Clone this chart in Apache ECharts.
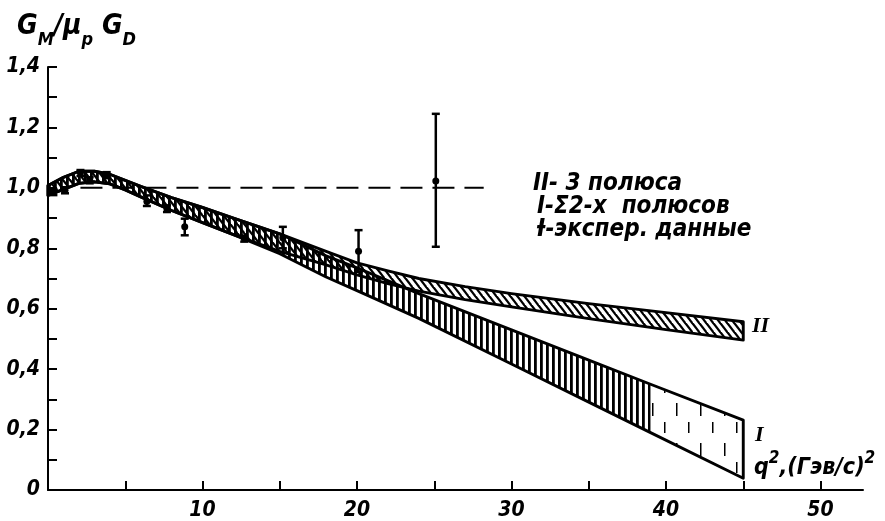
<!DOCTYPE html>
<html><head><meta charset="utf-8">
<script src="https://cdn.jsdelivr.net/npm/echarts@6/dist/echarts.min.js"></script>
<style>html,body{margin:0;padding:0;background:#fff}#c{width:885px;height:521px}</style>
</head><body><div id="c"></div>
<script>
// ---------- data ----------
const xTickValues = [5, 10, 15, 20, 25, 30, 35, 40, 45, 50];
const xLabelValues = [10, 20, 30, 40, 50];
const yTickValues = [0.1, 0.2, 0.3, 0.4, 0.5, 0.6, 0.7, 0.8, 0.9, 1.0, 1.1, 1.2, 1.3, 1.4];
const yLabelValues = [0, 0.2, 0.4, 0.6, 0.8, 1.0, 1.2, 1.4];

// band II : 3 poles
const bandIIq2 = [0, 1, 2, 3, 4, 5, 6, 8, 10, 12, 15, 18, 20, 22, 24, 27, 30, 35, 40, 45];
const bandIIhi = [1.008, 1.035, 1.055, 1.055, 1.045, 1.025, 1.005, 0.968, 0.935, 0.9, 0.848, 0.79, 0.752, 0.725, 0.70, 0.673, 0.65, 0.617, 0.587, 0.557];
const bandIIlo = [0.975, 0.995, 1.015, 1.02, 1.013, 0.993, 0.97, 0.925, 0.885, 0.845, 0.79, 0.745, 0.712, 0.683, 0.658, 0.63, 0.606, 0.567, 0.531, 0.496];

// band I : sum of 2 poles
const bandIq2 = [0, 1, 2, 3, 4, 5, 6, 8, 10, 12, 15, 18, 20, 24, 30, 35, 39, 45];
const bandIhi = [1.008, 1.035, 1.055, 1.055, 1.045, 1.025, 1.005, 0.968, 0.935, 0.9, 0.848, 0.775, 0.735, 0.65, 0.53, 0.43, 0.35, 0.231];
const bandIlo = [0.975, 0.995, 1.015, 1.02, 1.013, 0.993, 0.97, 0.925, 0.885, 0.845, 0.782, 0.705, 0.66, 0.568, 0.417, 0.291, 0.19, 0.039];
const bandIDenseEnd = 39;

// experimental data
const expQ2 = [0.35, 1.1, 2.1, 2.7, 3.8, 6.4, 7.7, 8.85, 12.7, 15.2, 20.1, 25.1];
const expY  = [0.986, 0.992, 1.049, 1.025, 1.042, 0.955, 0.93, 0.871, 0.832, 0.835, 0.79, 1.023];
const expLo = [0.976, 0.982, 1.039, 1.015, 1.032, 0.94, 0.92, 0.843, 0.822, 0.80, 0.722, 0.805];
const expHi = [0.996, 1.002, 1.059, 1.035, 1.052, 0.975, 0.942, 0.898, 0.842, 0.871, 0.86, 1.245];

// reference line G_M/μ_p G_D = 1
const refQ2 = [2.1, 28.2];
const refY = [1.0, 1.0];

// ---------- styling helpers ----------
const FONT = '"Liberation Sans Narrow","DejaVu Sans Condensed","DejaVu Sans",sans-serif';

function makePattern(kind) {
  const c = document.createElement('canvas');
  const ctx = c.getContext('2d');
  if (kind === 'vert') {
    c.width = 6; c.height = 6;
    ctx.fillStyle = '#000';
    ctx.fillRect(0, 0, 2.8, 6);
  } else if (kind === 'diag') {
    const w = 7, h = 9;
    c.width = w; c.height = h;
    ctx.strokeStyle = '#000';
    ctx.lineWidth = 2.3;
    for (const k of [-w, 0, w]) {
      ctx.beginPath();
      ctx.moveTo(k - w * 0.2, -h * 0.2);
      ctx.lineTo(k + w * 1.2, h * 1.2);
      ctx.stroke();
    }
  } else {
    c.width = 24; c.height = 40;
    ctx.fillStyle = '#000';
    ctx.fillRect(4, 3, 1.5, 13);
    ctx.fillRect(16, 22, 1.5, 11);
  }
  return { image: c, repeat: 'repeat' };
}
const patVert = makePattern('vert');
const patDiag = makePattern('diag');
const patSparse = makePattern('sparse');

function bandSeries(name, q2, lo, hi, fills, z) {
  return {
    name: name,
    type: 'custom',
    coordinateSystem: 'cartesian2d',
    z: z,
    silent: true,
    data: q2.map((x, i) => [x, lo[i], hi[i]]),
    encode: { x: 0, y: [1, 2] },
    renderItem: function (params, api) {
      if (params.dataIndex !== 0) return null;
      const children = [];
      fills.forEach(f => {
        const up = [], dn = [];
        for (let i = 0; i < q2.length; i++) {
          if (q2[i] < f.from || q2[i] > f.to) continue;
          up.push(api.coord([q2[i], hi[i]]));
          dn.push(api.coord([q2[i], lo[i]]));
        }
        children.push({ type: 'polygon', shape: { points: up.concat(dn.reverse()) }, style: { fill: f.pattern } });
      });
      const up = [], dn = [];
      for (let i = 0; i < q2.length; i++) {
        up.push(api.coord([q2[i], hi[i]]));
        dn.push(api.coord([q2[i], lo[i]]));
      }
      children.push({ type: 'polygon', shape: { points: up.concat(dn.reverse()) },
        style: { fill: 'none', stroke: '#000', lineWidth: 2.9, lineJoin: 'round' } });
      return { type: 'group', children: children };
    }
  };
}

const chart = echarts.init(document.getElementById('c'), null, { renderer: 'canvas' });
const labelStyle = { color: '#000', fontFamily: FONT, fontStyle: 'italic', fontWeight: 'bold', fontSize: 21 };
const legendStyle = { fontFamily: FONT, fontStyle: 'italic', fontWeight: 'bold', fontSize: 24, fill: '#000' };

chart.setOption({
  backgroundColor: '#fff',
  animation: false,
  grid: { left: 48, right: 22, top: 67, bottom: 31 },
  xAxis: {
    type: 'value', min: 0, max: 52.75,
    splitLine: { show: false },
    axisLine: { onZero: false, lineStyle: { color: '#000', width: 2 } },
    axisTick: { inside: true, length: 9, lineStyle: { color: '#000', width: 2 }, customValues: xTickValues },
    axisLabel: Object.assign({ margin: 10, customValues: xLabelValues, formatter: v => String(v) }, labelStyle)
  },
  yAxis: {
    type: 'value', min: 0, max: 1.4,
    splitLine: { show: false },
    axisLine: { onZero: false, lineStyle: { color: '#000', width: 2 } },
    axisTick: { inside: true, length: 9, lineStyle: { color: '#000', width: 2 }, customValues: yTickValues },
    axisLabel: Object.assign({ margin: 8, customValues: yLabelValues,
      formatter: v => (Math.abs(v) < 1e-9 ? '0' : v.toFixed(1).replace('.', ',')) }, labelStyle)
  },
  series: [
    {
      type: 'line', z: 1, silent: true, symbol: 'none',
      data: refQ2.map((x, i) => [x, refY[i]]),
      lineStyle: { color: '#000', width: 2, type: [22, 10] }
    },
    bandSeries('I', bandIq2, bandIlo, bandIhi,
      [{ from: 0, to: bandIDenseEnd, pattern: patVert }, { from: bandIDenseEnd, to: 100, pattern: patSparse }], 2),
    bandSeries('II', bandIIq2, bandIIlo, bandIIhi,
      [{ from: 0, to: 100, pattern: patDiag }], 3),
    {
      name: 'exp', type: 'custom', coordinateSystem: 'cartesian2d', z: 5, silent: true,
      data: expQ2.map((x, i) => [x, expY[i], expLo[i], expHi[i]]),
      encode: { x: 0, y: [1, 2, 3] },
      renderItem: function (params, api) {
        const x = api.value(0);
        const p = api.coord([x, api.value(1)]);
        const b = api.coord([x, api.value(2)]);
        const t = api.coord([x, api.value(3)]);
        const ls = { stroke: '#000', lineWidth: 2.5 };
        return { type: 'group', children: [
          { type: 'line', shape: { x1: t[0], y1: t[1], x2: b[0], y2: b[1] }, style: ls },
          { type: 'line', shape: { x1: t[0] - 4, y1: t[1], x2: t[0] + 4, y2: t[1] }, style: ls },
          { type: 'line', shape: { x1: b[0] - 4, y1: b[1], x2: b[0] + 4, y2: b[1] }, style: ls },
          { type: 'circle', shape: { cx: p[0], cy: p[1], r: 3.5 }, style: { fill: '#000' } }
        ] };
      }
    }
  ],
  graphic: [
    { type: 'text', left: 17, top: 13, z: 10, style: {
        text: '{g|G}{s|M}{g|/μ}{s|p}{g| G}{s|D}',
        rich: {
          g: { fontFamily: FONT, fontStyle: 'italic', fontWeight: 'bold', fontSize: 28, fill: '#000', verticalAlign: 'top', lineHeight: 36 },
          s: { fontFamily: FONT, fontStyle: 'italic', fontWeight: 'bold', fontSize: 18, fill: '#000', verticalAlign: 'bottom', lineHeight: 36 }
        } } },
    { type: 'text', left: 754, top: 450, z: 10, style: {
        text: '{t|q}{p|2}{t|,(Гэв/с)}{p|2}',
        rich: {
          t: { fontFamily: FONT, fontStyle: 'italic', fontWeight: 'bold', fontSize: 23, fill: '#000', verticalAlign: 'bottom', lineHeight: 30 },
          p: { fontFamily: FONT, fontStyle: 'italic', fontWeight: 'bold', fontSize: 17, fill: '#000', verticalAlign: 'top', lineHeight: 30 }
        } } },
    { type: 'text', left: 533, top: 172, z: 10, style: Object.assign({ text: 'II- 3 полюса' }, legendStyle) },
    { type: 'text', left: 537, top: 195, z: 10, style: Object.assign({ text: 'I-Σ2-х  полюсов' }, legendStyle) },
    { type: 'text', left: 537, top: 218, z: 10, style: Object.assign({ text: 'Ɨ-экспер. данные' }, legendStyle) },
    { type: 'text', left: 752, top: 315, z: 10, style: { text: 'II', fontFamily: '"Liberation Serif",serif', fontStyle: 'italic', fontWeight: 'bold', fontSize: 22, fill: '#000' } },
    { type: 'text', left: 755, top: 424, z: 10, style: { text: 'I', fontFamily: '"Liberation Serif",serif', fontStyle: 'italic', fontWeight: 'bold', fontSize: 22, fill: '#000' } }
  ]
});
</script>
</body></html>
